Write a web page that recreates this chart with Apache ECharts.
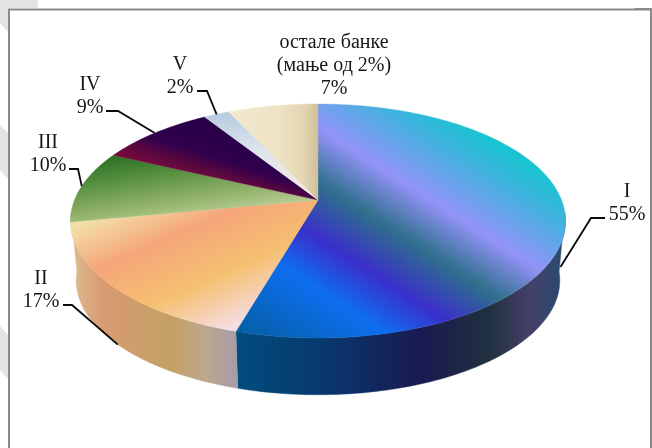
<!DOCTYPE html>
<html><head><meta charset="utf-8">
<style>html,body{margin:0;padding:0;background:#fff}#c{width:652px;height:448px;filter:blur(0.4px)}</style>
<script src="https://cdn.jsdelivr.net/npm/echarts@6/dist/echarts.min.js"></script>
</head><body><div id="c"></div>
<script>
// ---- data ----
const categories = ['I','II','III','IV','V','остале банке\n(мање од 2%)'];
const shares = [54.5,17.5,10,9,2,7];
const percentLabels = ['55%','17%','10%','9%','2%','7%'];

// ---- pie projection (perspective view of a flat disc) ----
const view = {cx:318, cy:200, A:243.5, B:113.2, k:0.1795, cyBase:260, baseScale:0.977};
function project(deg, base){
  const r = deg*Math.PI/180, u = Math.sin(r), v = -Math.cos(r), w = 1 - view.k*v;
  const s = base ? view.baseScale : 1, y0 = base ? view.cyBase : view.cy;
  return [view.cx + s*view.A*u/w, y0 + s*view.B*v/w];
}
function arc(a0,a1,base){
  const n = Math.max(2, Math.ceil(Math.abs(a1-a0))), pts = [];
  for(let i=0;i<=n;i++) pts.push(project(a0+(a1-a0)*i/n, base));
  return pts;
}
const total = shares.reduce((a,b)=>a+b,0);
const spans = []; { let c=0; shares.forEach(s=>{ spans.push([c/total*360,(c+s)/total*360]); c+=s; }); }

// ---- fills ----
function band(nx,ny,stops){
  const t0=stops[0][0], t1=stops[stops.length-1][0];
  return new echarts.graphic.LinearGradient(
    view.cx+nx*t0, view.cy+ny*t0, view.cx+nx*t1, view.cy+ny*t1,
    stops.map(s=>({offset:(s[0]-t0)/(t1-t0), color:s[1]})), true);
}
function horiz(stops){
  const x0=stops[0][0], x1=stops[stops.length-1][0];
  return new echarts.graphic.LinearGradient(x0,0,x1,0,
    stops.map(s=>({offset:(s[0]-x0)/(x1-x0), color:s[1]})), true);
}
const topFills = [
  band(0.54,-0.84,[[-150,'#0560A8'],[-75,'#0E6EF0'],[-32,'#3A2FCB'],[15,'#2F6F8C'],[61,'#9393F8'],[118,'#3AB5DC'],[145,'#18C4D0'],[165,'#18C4D0']]),
  band(0.4,0.92,[[-72,'#F3DFA8'],[-25,'#F5A67A'],[30,'#F5C070'],[83,'#F5DDE4']]),
  band(0.15,0.99,[[-75,'#2C6E24'],[-50,'#558F3E'],[-20,'#93B36A'],[0,'#B9CE96']]),
  band(-0.3,0.95,[[-45,'#280048'],[-10,'#30004C'],[5,'#5C0840'],[20,'#7A0A3C']]),
  band(0,1,[[-88,'#B5CADF'],[-50,'#DDE4EC'],[-10,'#F5E8E0']]),
  horiz([[230,'#F3E8CE'],[280,'#EEE2C3'],[305,'#E2D4B0'],[318,'#CFC09A']])
];
const wallFills = [
  horiz([[237,'#004E7E'],[322,'#08386F'],[422,'#1A1A50'],[489,'#20303F'],[529,'#444068'],[562,'#2A4A70']]),
  horiz([[72,'#DCBC90'],[103,'#D99A72'],[150,'#C9A068'],[172,'#C4A064'],[205,'#BDA88E'],[238,'#A89AAA']])
];
// the side wall is only seen between the disc's two silhouette points
const wallSpans = [[96,null],[null,264]];

// ---- label layout: text centre, knee of the leader, how far down the wall it lands ----
const labelLayout = [
  {x:627,y:203.5,hook:[[605,218],[591,218]],depth:0.85},
  {x:41, y:290.5,hook:[[63,305],[72,305]],depth:1},
  {x:48, y:154,  hook:[[69,169],[78,169]],depth:0},
  {x:90, y:96.5, hook:[[106,111],[118,111]],depth:0},
  {x:180,y:76,   hook:[[197,91],[207,91]],depth:0},
  {x:334,y:65.5, hook:null,depth:0}
];
const seq = categories.map((_,i)=>i);

const option = {
  animation:false,
  backgroundColor:'#fff',
  graphic:{elements:[
    {type:'polygon',silent:true,z:0,shape:{points:[[0,0],[38,0],[38,8],[8,8],[8,32],[0,23]]},style:{fill:'#E3E3E3'}},
    {type:'polygon',silent:true,z:0,shape:{points:[[0,125],[8,133],[8,179],[0,170]]},style:{fill:'#E3E3E3'}},
    {type:'polygon',silent:true,z:0,shape:{points:[[0,326],[8,335],[8,379],[0,370]]},style:{fill:'#E3E3E3'}},
    {type:'polyline',silent:true,z:1,shape:{points:[[9,448],[9,9.5],[651,9.5],[651,448]]},style:{stroke:'#8A8A8A',lineWidth:2,fill:null}},
    {type:'line',silent:true,z:1,shape:{x1:635,y1:9,x2:652,y2:9},style:{stroke:'#8A8A8A',lineWidth:2}}
  ]},
  series:[
    {type:'custom',coordinateSystem:'none',silent:true,z:2,data:seq,
     renderItem(p,api){
       const i=api.value(0), w=wallSpans[i];
       if(!w) return {type:'group',children:[]};
       const a=w[0]==null?spans[i][0]:w[0], b=w[1]==null?spans[i][1]:w[1];
       return {type:'polygon',shape:{points:arc(a,b,false).concat(arc(b,a,true))},
               style:{fill:wallFills[i],stroke:wallFills[i],lineWidth:0.4}};
     }},
    {type:'custom',coordinateSystem:'none',silent:true,z:3,data:seq,
     renderItem(p,api){
       const i=api.value(0);
       return {type:'polygon',shape:{points:[[view.cx,view.cy]].concat(arc(spans[i][0],spans[i][1],false))},
               style:{fill:topFills[i],stroke:topFills[i],lineWidth:0.4}};
     }},
    {type:'custom',coordinateSystem:'none',silent:true,z:4,data:seq,
     renderItem(p,api){
       const i=api.value(0), L=labelLayout[i], kids=[];
       if(L.hook){
         const mid=(spans[i][0]+spans[i][1])/2, t=project(mid,false), b=project(mid,true);
         const end=[t[0]+(b[0]-t[0])*L.depth, t[1]+(b[1]-t[1])*L.depth];
         kids.push({type:'polyline',shape:{points:L.hook.concat([end])},
                    style:{stroke:'#0A0A0A',lineWidth:1.8,fill:null}});
       }
       kids.push({type:'text',style:{x:L.x,y:L.y,text:categories[i]+'\n'+percentLabels[i],
                  align:'center',verticalAlign:'middle',fill:'#161616',
                  font:'20px "Liberation Serif"',lineHeight:23}});
       return {type:'group',children:kids};
     }}
  ]
};
echarts.init(document.getElementById('c'),null,{renderer:'canvas'}).setOption(option);
</script></body></html>
